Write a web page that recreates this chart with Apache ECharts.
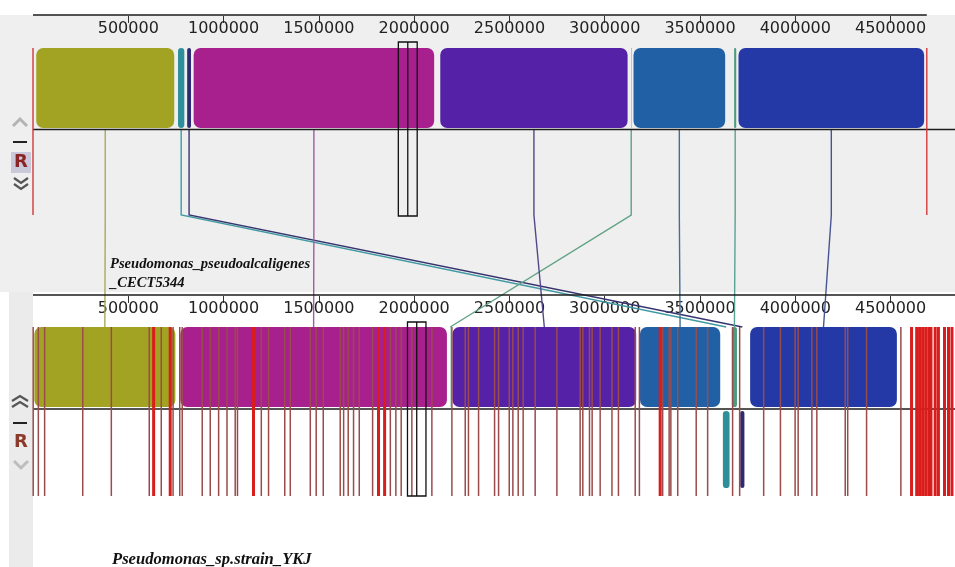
<!DOCTYPE html>
<html lang="en">
<head>
<meta charset="UTF-8">
<title>Mauve alignment</title>
<script src="https://cdn.jsdelivr.net/npm/echarts@6/dist/echarts.min.js"></script>
<style>
    html, body { margin: 0; padding: 0; background: #fff; }
    #main { width: 955px; height: 567px; }
</style>
</head>
<body>
<div id="main"></div>
<script>
// all positions in bp
var VIEW_MAX = 4838000;
var TOP_LENGTH = 4690000;
var tickValues = [500000, 1000000, 1500000, 2000000, 2500000, 3000000, 3500000, 4000000, 4500000];

var topName = 'Pseudomonas_pseudoalcaligenes\n_CECT5344';
var bottomName = 'Pseudomonas_sp.strain_YKJ';

// locally collinear blocks, same order in both arrays
var lcbNames = ['olive', 'teal', 'navy', 'magenta', 'greenA', 'purple', 'steel', 'greenB', 'blue'];
var topStart = [17000, 761000, 809000, 843000, 3138000, 2137000, 3151000, 3679000, 3702000];
var topEnd = [741000, 794000, 829000, 2105000, 3140000, 3120000, 3632000, 3690000, 4676000];
var bottomStart = [7000, 3620000, 3711000, 773000, 2188000, 2201000, 3185000, 3667000, 3763000];
var bottomEnd = [747000, 3655000, 3733000, 2172000, 2190000, 3165000, 3606000, 3694000, 4533000];
var bottomStrand = [1, -1, -1, 1, 1, 1, 1, 1, 1];

// contig boundaries
var topContigs = [0, 4690000];
var bottomContigs = [1000, 28000, 61000, 261000, 411000, 610000, 673000, 735000, 770000, 783000,
    888000, 930000, 974000, 1018000, 1061000, 1073000, 1198000, 1236000, 1321000, 1350000,
    1455000, 1486000, 1523000, 1612000, 1630000, 1654000, 1682000, 1712000, 1782000, 1875000,
    1904000, 1932000, 1988000, 2093000, 2198000, 2268000, 2285000, 2338000, 2422000, 2443000,
    2499000, 2518000, 2546000, 2572000, 2635000, 2749000, 2871000, 2885000, 2920000, 2934000,
    2976000, 3038000, 3072000, 3160000, 3182000, 3304000, 3338000, 3347000, 3383000, 3480000,
    3540000, 3671000, 3708000, 3834000, 3922000, 3999000, 4015000, 4087000, 4113000, 4262000,
    4275000, 4374000, 4554000];
var bottomContigClusters = [633000, 720000, 1157000, 1813000, 1845000, 3291000, 4610000,
    4637000, 4652000, 4668000, 4684000, 4700000, 4712000, 4734000, 4751000, 4783000, 4804000, 4822000];

var topSelection = [1917000, 2016000];
var bottomSelection = [1965000, 2062000];

// styles
var blockColors = {
    olive: '#a3a323', teal: '#2e8f9b', navy: '#2c2a72', magenta: '#a8208d', greenA: '#5a9f7f',
    purple: '#5421a7', steel: '#2260a6', greenB: '#4e9c80', blue: '#2439a5'
};
var linkColors = {
    olive: '#a9a95a', teal: '#3f9aa2', navy: '#35346f', magenta: '#a05d9c', greenA: '#5fa283',
    purple: '#55468a', steel: '#466d92', greenB: '#58a393', blue: '#475494'
};

// pixel layout of the two panels
var L = {
    topAxis: 15, topBlock: [48, 128], topCenter: 129.5, topBend: 215, topContig: [48, 215], topBox: [42, 216],
    botAxis: 295, botBlock: [327, 407], botInv: [411, 488], botCenter: 409, botContig: [327, 496], botBox: [322, 496]
};

var chart = echarts.init(document.getElementById('main'));

function px(api, bp) { return api.coord([bp, 0])[0]; }

function axisFor(index) {
    return {
        type: 'value', gridIndex: index, position: 'top', min: 0, max: VIEW_MAX,
        axisLine: { show: false },
        splitLine: { show: false },
        axisTick: { inside: true, length: 7, customValues: tickValues, lineStyle: { color: '#333', width: 1 } },
        axisLabel: {
            inside: true, margin: 5.5, customValues: tickValues, color: '#222',
            fontSize: 16, fontFamily: 'DejaVu Sans',
            formatter: function (v) { return String(v); }
        }
    };
}

var option = {
    animation: false,
    backgroundColor: '#fff',
    grid: [
        { left: 33, width: 922, top: L.topAxis, height: 1 },
        { left: 33, width: 922, top: L.botAxis, height: 1 }
    ],
    xAxis: [axisFor(0), axisFor(1)],
    yAxis: [
        { type: 'value', gridIndex: 0, min: 0, max: 1, show: false },
        { type: 'value', gridIndex: 1, min: 0, max: 1, show: false }
    ],
    graphic: [
        { type: 'rect', z: -10, shape: { x: 0, y: 15, width: 955, height: 277 }, style: { fill: '#efefef' } },
        { type: 'rect', z: -10, shape: { x: 9, y: 292, width: 24, height: 275 }, style: { fill: '#ebebeb' } },
        // top panel controls
        { type: 'polyline', z: 10, shape: { points: [[13, 126], [20, 119], [27, 126]] }, style: { stroke: '#b4b4b4', lineWidth: 3, fill: null } },
        { type: 'rect', z: 10, shape: { x: 13, y: 141, width: 14, height: 2 }, style: { fill: '#222' } },
        { type: 'rect', z: 10, shape: { x: 11, y: 152, width: 20, height: 21 }, style: { fill: '#c9c9da' } },
        { type: 'text', z: 11, x: 21, y: 162.5, style: { text: 'R', fill: '#8b2525', font: 'bold 18px "DejaVu Sans"', align: 'center', verticalAlign: 'middle' } },
        { type: 'polyline', z: 10, shape: { points: [[14, 178], [21, 183], [28, 178]] }, style: { stroke: '#555', lineWidth: 2.2, fill: null } },
        { type: 'polyline', z: 10, shape: { points: [[14, 184], [21, 189], [28, 184]] }, style: { stroke: '#555', lineWidth: 2.2, fill: null } },
        // bottom panel controls
        { type: 'polyline', z: 10, shape: { points: [[12, 401], [20, 396], [28, 401]] }, style: { stroke: '#555', lineWidth: 2.2, fill: null } },
        { type: 'polyline', z: 10, shape: { points: [[12, 407], [20, 402], [28, 407]] }, style: { stroke: '#555', lineWidth: 2.2, fill: null } },
        { type: 'rect', z: 10, shape: { x: 13, y: 422, width: 14, height: 2 }, style: { fill: '#222' } },
        { type: 'text', z: 11, x: 21, y: 442.5, style: { text: 'R', fill: '#8b3a2a', font: 'bold 18px "DejaVu Sans"', align: 'center', verticalAlign: 'middle' } },
        { type: 'polyline', z: 10, shape: { points: [[14, 461], [21, 468], [28, 461]] }, style: { stroke: '#bdbdbd', lineWidth: 3, fill: null } },
        // genome names
        { type: 'text', z: 10, x: 110, y: 255, style: { text: topName, fill: '#111', font: 'italic bold 14.6px "Liberation Serif"', lineHeight: 19, verticalAlign: 'top' } },
        { type: 'text', z: 10, x: 112, y: 551, style: { text: bottomName, fill: '#111', font: 'italic bold 16.6px "Liberation Serif"', verticalAlign: 'top' } }
    ],
    series: [
        {
            // rulers and centre lines
            type: 'custom', xAxisIndex: 0, yAxisIndex: 0, z: 3,
            encode: { x: [0, 1], y: 2 },
            data: [[TOP_LENGTH, VIEW_MAX, 0]],
            renderItem: function (params, api) {
                var x0 = px(api, 0), xt = px(api, api.value(0)), xv = px(api, api.value(1));
                var st = { stroke: '#1c1c1c', lineWidth: 1.6 };
                return {
                    type: 'group', children: [
                        { type: 'line', shape: { x1: x0, y1: L.topAxis, x2: xt, y2: L.topAxis }, style: st },
                        { type: 'line', shape: { x1: x0, y1: L.topCenter, x2: xv, y2: L.topCenter }, style: st },
                        { type: 'line', shape: { x1: x0, y1: L.botAxis, x2: xv, y2: L.botAxis }, style: st },
                        { type: 'line', shape: { x1: x0, y1: L.botCenter, x2: xv, y2: L.botCenter }, style: st }
                    ]
                };
            }
        },
        {
            // connectors between block centres
            type: 'custom', xAxisIndex: 0, yAxisIndex: 0, z: 2,
            encode: { x: [0, 1], y: 2 },
            data: lcbNames.map(function (n, i) {
                return [(topStart[i] + topEnd[i]) / 2, (bottomStart[i] + bottomEnd[i]) / 2, 0];
            }),
            renderItem: function (params, api) {
                var xt = px(api, api.value(0)), xb = px(api, api.value(1));
                return {
                    type: 'polyline',
                    shape: { points: [[xt, L.topCenter], [xt, L.topBend], [xb, L.botBlock[0]]] },
                    style: { stroke: linkColors[lcbNames[params.dataIndex]], lineWidth: 1.4, fill: null }
                };
            }
        },
        {
            // top genome blocks
            type: 'custom', xAxisIndex: 0, yAxisIndex: 0, z: 4,
            encode: { x: [0, 1], y: 2 },
            data: lcbNames.map(function (n, i) { return [topStart[i], topEnd[i], 0]; }),
            renderItem: function (params, api) {
                var x0 = px(api, api.value(0)), x1 = px(api, api.value(1));
                return {
                    type: 'rect',
                    shape: { x: x0, y: L.topBlock[0], width: Math.max(x1 - x0, 0.4), height: L.topBlock[1] - L.topBlock[0], r: 7 },
                    style: { fill: blockColors[lcbNames[params.dataIndex]] }
                };
            }
        },
        {
            // bottom genome blocks
            type: 'custom', xAxisIndex: 1, yAxisIndex: 1, z: 4,
            encode: { x: [0, 1], y: 2 },
            data: lcbNames.map(function (n, i) { return [bottomStart[i], bottomEnd[i], 0, bottomStrand[i]]; }),
            renderItem: function (params, api) {
                var x0 = px(api, api.value(0)), x1 = px(api, api.value(1));
                var lane = api.value(3) > 0 ? L.botBlock : L.botInv;
                return {
                    type: 'rect',
                    shape: { x: x0, y: lane[0], width: Math.max(x1 - x0, 0.4), height: lane[1] - lane[0], r: 7 },
                    style: { fill: blockColors[lcbNames[params.dataIndex]] }
                };
            }
        },
        {
            // top contig boundaries
            type: 'custom', xAxisIndex: 0, yAxisIndex: 0, z: 5,
            encode: { x: 0, y: 1 },
            data: topContigs.map(function (v) { return [v, 0]; }),
            renderItem: function (params, api) {
                var x = px(api, api.value(0));
                return { type: 'line', shape: { x1: x, y1: L.topContig[0], x2: x, y2: L.topContig[1] }, style: { stroke: '#d23a3a', lineWidth: 1.4 } };
            }
        },
        {
            // bottom contig boundaries
            type: 'custom', xAxisIndex: 1, yAxisIndex: 1, z: 5,
            encode: { x: 0, y: 1 },
            data: bottomContigs.map(function (v) { return [v, 0]; }),
            renderItem: function (params, api) {
                var x = px(api, api.value(0));
                return { type: 'line', shape: { x1: x, y1: L.botContig[0], x2: x, y2: L.botContig[1] }, style: { stroke: '#9a4b4b', lineWidth: 1.5 } };
            }
        },
        {
            // dense contig boundaries
            type: 'custom', xAxisIndex: 1, yAxisIndex: 1, z: 5,
            encode: { x: 0, y: 1 },
            data: bottomContigClusters.map(function (v) { return [v, 0]; }),
            renderItem: function (params, api) {
                var x = px(api, api.value(0));
                return { type: 'line', shape: { x1: x, y1: L.botContig[0], x2: x, y2: L.botContig[1] }, style: { stroke: '#d91c1c', lineWidth: 3 } };
            }
        },
        {
            // selection boxes
            type: 'custom', xAxisIndex: 0, yAxisIndex: 0, z: 6,
            encode: { x: [0, 1], y: 2 },
            data: [[topSelection[0], topSelection[1], 0, 0], [bottomSelection[0], bottomSelection[1], 0, 1]],
            renderItem: function (params, api) {
                var x0 = px(api, api.value(0)), x1 = px(api, api.value(1));
                var box = api.value(3) ? L.botBox : L.topBox;
                var xm = (x0 + x1) / 2;
                var st = { stroke: '#111', lineWidth: 1.3, fill: null };
                return {
                    type: 'group', children: [
                        { type: 'rect', shape: { x: x0, y: box[0], width: x1 - x0, height: box[1] - box[0] }, style: st },
                        { type: 'line', shape: { x1: xm, y1: box[0], x2: xm, y2: box[1] }, style: st }
                    ]
                };
            }
        }
    ]
};

chart.setOption(option);
window.addEventListener('resize', function () { chart.resize(); });
</script>
</body>
</html>
